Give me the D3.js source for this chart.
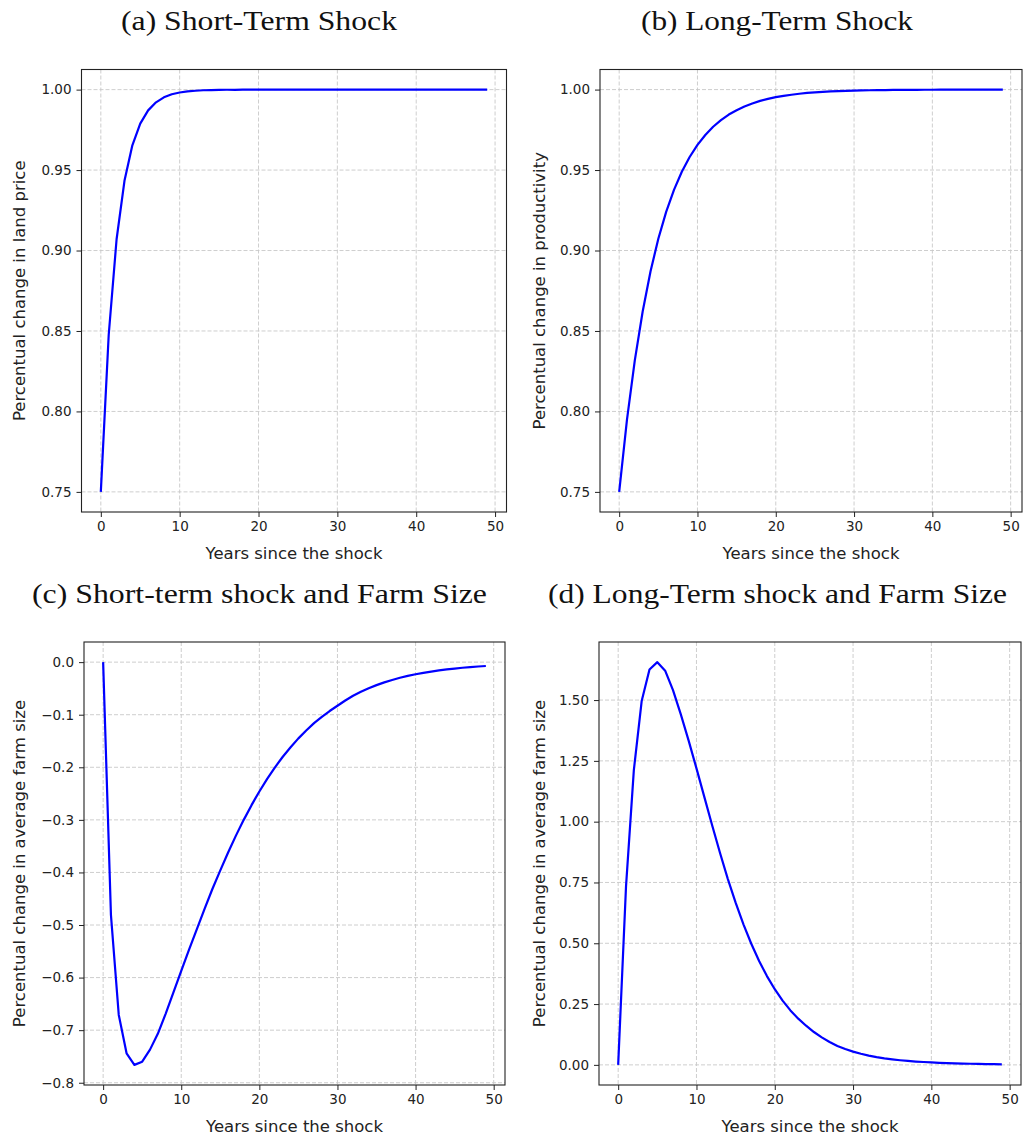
<!DOCTYPE html>
<html>
<head>
<meta charset="utf-8">
<script src="https://cdn.jsdelivr.net/npm/d3@7"></script>
<style>
  body { margin: 0; background: #fff; }
</style>
</head>
<body>
<svg id="chart" width="1026" height="1138"></svg>
<script>
// years since the shock (x axis of every panel)
const years = d3.range(0, 50);

const landPrice = [
  0.75, 0.8475, 0.907, 0.9433, 0.9654, 0.9789, 0.9871, 0.9921, 0.9952, 0.9971,
  0.9982, 0.9989, 0.9993, 0.9996, 0.9997, 0.9998, 0.9999, 0.9999, 1.0, 1.0,
  1.0, 1.0, 1.0, 1.0, 1.0, 1.0, 1.0, 1.0, 1.0, 1.0,
  1.0, 1.0, 1.0, 1.0, 1.0, 1.0, 1.0, 1.0, 1.0, 1.0,
  1.0, 1.0, 1.0, 1.0, 1.0, 1.0, 1.0, 1.0, 1.0, 1.0
];

const productivity = [
  0.75, 0.795, 0.8319, 0.8621, 0.8870, 0.9073, 0.9240, 0.9377, 0.9489, 0.9581,
  0.9656, 0.9718, 0.9769, 0.9810, 0.9845, 0.9872, 0.9895, 0.9914, 0.9930, 0.9942,
  0.9953, 0.9961, 0.9968, 0.9974, 0.9979, 0.99825, 0.99857, 0.99883, 0.99904, 0.99921,
  0.99935, 0.99947, 0.99957, 0.99965, 0.99971, 0.99976, 0.9998, 0.99984, 0.99987, 0.99989,
  0.99991, 0.99993, 0.99994, 0.99995, 0.99996, 0.99997, 0.99997, 0.99998, 0.99998, 0.99998
];

const farmSizeShort = [
  0.0, -0.481, -0.671, -0.744, -0.766, -0.760, -0.737, -0.707, -0.669, -0.628,
  -0.587, -0.547, -0.508, -0.469, -0.431, -0.396, -0.362, -0.330, -0.300, -0.272,
  -0.246, -0.222, -0.200, -0.180, -0.162, -0.145, -0.130, -0.116, -0.104, -0.093,
  -0.083, -0.073, -0.064, -0.0565, -0.0497, -0.0437, -0.0385, -0.0339, -0.0298, -0.0262,
  -0.0231, -0.0203, -0.0179, -0.0157, -0.0138, -0.0122, -0.0107, -0.0094, -0.0083, -0.0073
];

const farmSizeLong = [
  0.0, 0.733, 1.212, 1.496, 1.626, 1.656, 1.621, 1.541, 1.441, 1.333,
  1.219, 1.102, 0.985, 0.872, 0.765, 0.667, 0.578, 0.498, 0.427, 0.365,
  0.311, 0.264, 0.224, 0.190, 0.161, 0.135, 0.113, 0.094, 0.078, 0.065,
  0.0545, 0.0455, 0.038, 0.0318, 0.0267, 0.0225, 0.019, 0.0161, 0.0137, 0.0117,
  0.0100, 0.0085, 0.0073, 0.0062, 0.0053, 0.0045, 0.0039, 0.0033, 0.0028, 0.0024
];

const xTicks = [0, 10, 20, 30, 40, 50];
const priceTicks = [0.75, 0.80, 0.85, 0.90, 0.95, 1.00];
const shortSizeTicks = [0.0, -0.1, -0.2, -0.3, -0.4, -0.5, -0.6, -0.7, -0.8];
const longSizeTicks = [0.00, 0.25, 0.50, 0.75, 1.00, 1.25, 1.50];

const titles = [
  "(a) Short-Term Shock",
  "(b) Long-Term Shock",
  "(c) Short-term shock and Farm Size",
  "(d) Long-Term shock and Farm Size"
];
const yLabels = [
  "Percentual change in land price",
  "Percentual change in productivity",
  "Percentual change in average farm size",
  "Percentual change in average farm size"
];
const xLabel = "Years since the shock";

const panels = [
  {values: landPrice, yTicks: priceTicks, fmt: ".2f",
   box: {left: 81.5, right: 506.5, top: 69.5, bottom: 512}, titleX: 259, titleY: 30, titleLen: 276, labelX: 19},
  {values: productivity, yTicks: priceTicks, fmt: ".2f",
   box: {left: 600, right: 1022, top: 69.5, bottom: 512}, titleX: 777, titleY: 30, titleLen: 272, labelX: 539},
  {values: farmSizeShort, yTicks: shortSizeTicks, fmt: ".1f",
   box: {left: 84, right: 505, top: 642, bottom: 1085}, titleX: 259.5, titleY: 603, titleLen: 455, labelX: 19},
  {values: farmSizeLong, yTicks: longSizeTicks, fmt: ".2f",
   box: {left: 599, right: 1021, top: 642, bottom: 1085}, titleX: 777.5, titleY: 603, titleLen: 459, labelX: 539}
];

const svg = d3.select("#chart");
const sans = "'DejaVu Sans', sans-serif";

// matplotlib style 5% margins around the data
function padded(lo, hi) {
  const m = (hi - lo) * 0.05;
  return [lo - m, hi + m];
}

panels.forEach((p, i) => {
  const {left, right, top, bottom} = p.box;
  const g = svg.append("g");

  const x = d3.scaleLinear()
    .domain(padded(d3.min(years), d3.max(years)))
    .range([left, right]);
  const y = d3.scaleLinear()
    .domain(padded(d3.min(p.values), d3.max(p.values)))
    .range([bottom, top]);

  // grid
  g.append("g").selectAll("line").data(xTicks).join("line")
    .attr("x1", d => x(d)).attr("x2", d => x(d))
    .attr("y1", top).attr("y2", bottom);
  g.append("g").selectAll("line").data(p.yTicks).join("line")
    .attr("x1", left).attr("x2", right)
    .attr("y1", d => y(d)).attr("y2", d => y(d));
  g.selectAll("g line")
    .attr("stroke", "#c8c8c8")
    .attr("stroke-width", 0.9)
    .attr("stroke-dasharray", "4,2");

  // curve
  const line = d3.line()
    .x((d, j) => x(years[j]))
    .y(d => y(d));
  g.append("path")
    .datum(p.values)
    .attr("d", line)
    .attr("fill", "none")
    .attr("stroke", "#0000ff")
    .attr("stroke-width", 2.2)
    .attr("stroke-linejoin", "round");

  // axes
  const xAxis = g.append("g")
    .attr("transform", "translate(0," + bottom + ")")
    .call(d3.axisBottom(x).tickValues(xTicks).tickSize(5).tickPadding(4).tickFormat(d3.format("d")));
  const yAxis = g.append("g")
    .attr("transform", "translate(" + left + ",0)")
    .call(d3.axisLeft(y).tickValues(p.yTicks).tickSize(5).tickPadding(5).tickFormat(d3.format(p.fmt)));

  [xAxis, yAxis].forEach(ax => {
    ax.select(".domain").remove();
    ax.selectAll(".tick line").attr("stroke", "#222").attr("stroke-width", 1);
    ax.selectAll(".tick text")
      .attr("fill", "#222")
      .style("font-family", sans)
      .style("font-size", "13.5px");
  });

  // frame
  g.append("rect")
    .attr("x", left).attr("y", top)
    .attr("width", right - left).attr("height", bottom - top)
    .attr("fill", "none")
    .attr("stroke", "#222")
    .attr("stroke-width", 1.1);

  // labels
  g.append("text")
    .attr("x", (left + right) / 2)
    .attr("y", bottom + 47)
    .attr("text-anchor", "middle")
    .attr("fill", "#222")
    .style("font-family", sans)
    .style("font-size", "16.5px")
    .text(xLabel);

  g.append("text")
    .attr("transform", "translate(" + p.labelX + "," + (top + bottom) / 2 + ") rotate(-90)")
    .attr("text-anchor", "middle")
    .attr("dy", "0.35em")
    .attr("fill", "#222")
    .style("font-family", sans)
    .style("font-size", "16.5px")
    .text(yLabels[i]);

  g.append("text")
    .attr("x", p.titleX)
    .attr("y", p.titleY)
    .attr("text-anchor", "middle")
    .attr("textLength", p.titleLen)
    .attr("lengthAdjust", "spacingAndGlyphs")
    .attr("fill", "#111")
    .style("font-family", "'Liberation Serif', serif")
    .style("font-size", "28px")
    .text(titles[i]);
});
</script>
</body>
</html>
